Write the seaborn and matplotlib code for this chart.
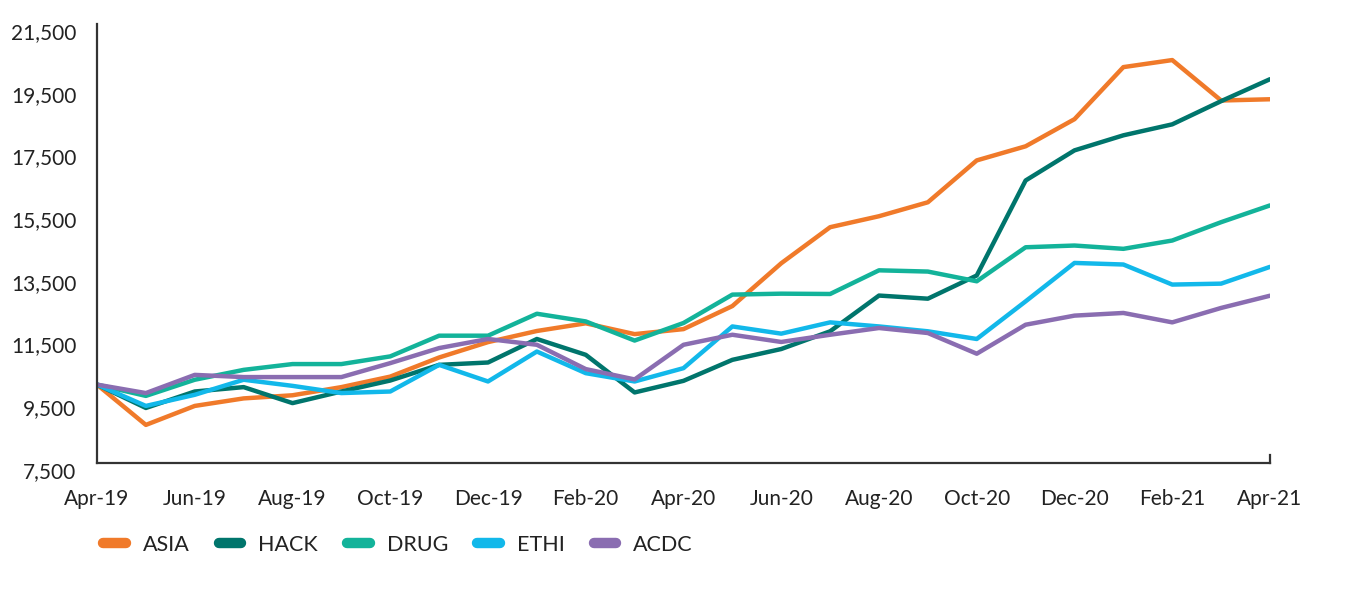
import matplotlib
matplotlib.use("Agg")
import matplotlib.pyplot as plt
import matplotlib.transforms as mtransforms
import seaborn as sns
import pandas as pd

months = ["Apr-19", "May-19", "Jun-19", "Jul-19", "Aug-19", "Sep-19", "Oct-19", "Nov-19",
          "Dec-19", "Jan-20", "Feb-20", "Mar-20", "Apr-20", "May-20", "Jun-20", "Jul-20",
          "Aug-20", "Sep-20", "Oct-20", "Nov-20", "Dec-20", "Jan-21", "Feb-21", "Mar-21", "Apr-21"]
tick_labels = ["Apr-19", "Jun-19", "Aug-19", "Oct-19", "Dec-19", "Feb-20", "Apr-20",
               "Jun-20", "Aug-20", "Oct-20", "Dec-20", "Feb-21", "Apr-21"]
y_ticks = [7500, 9500, 11500, 13500, 15500, 17500, 19500, 21500]

ASIA = [10000, 8715, 9320, 9560, 9660, 9920, 10255, 10865, 11355, 11710, 11955, 11610, 11770,
        12505, 13870, 15020, 15370, 15815, 17150, 17600, 18465, 20125, 20350, 19060, 19100]
HACK = [10000, 9255, 9780, 9920, 9410, 9780, 10130, 10630, 10705, 11455, 10950, 9750, 10120,
        10790, 11135, 11700, 12840, 12740, 13480, 16510, 17470, 17950, 18300, 19040, 19740]
DRUG = [10000, 9640, 10155, 10470, 10655, 10655, 10900, 11560, 11560, 12260, 12015, 11405, 11965,
        12870, 12900, 12890, 13645, 13605, 13295, 14380, 14435, 14330, 14595, 15180, 15715]
ETHI = [10000, 9320, 9675, 10155, 9960, 9730, 9780, 10630, 10100, 11055, 10365, 10100, 10525,
        11855, 11625, 11985, 11855, 11700, 11455, 12655, 13880, 13830, 13190, 13220, 13755]
ACDC = [10000, 9730, 10310, 10240, 10240, 10240, 10685, 11165, 11455, 11270, 10495, 10165, 11270,
        11590, 11360, 11590, 11805, 11645, 10985, 11910, 12200, 12285, 11985, 12445, 12835]

series = {"ASIA": ASIA, "HACK": HACK, "DRUG": DRUG, "ETHI": ETHI, "ACDC": ACDC}
colors = {"ASIA": "#F07A2A", "HACK": "#00756C", "DRUG": "#13B39A", "ETHI": "#12B8EA", "ACDC": "#8A6DB1"}

rows = []
for name, vals in series.items():
    for i, v in enumerate(vals):
        rows.append({"idx": i, "month": months[i], "value": v, "fund": name})
df = pd.DataFrame(rows)

sns.set_theme(style="white")
plt.rcParams["font.family"] = ["Lato", "DejaVu Sans"]
text_color = "#222222"

fig = plt.figure(figsize=(13.68, 5.90), dpi=100)
ax = fig.add_axes([97 / 1368, 1 - 463 / 590, (1270 - 97) / 1368, (463 - 24) / 590])

sns.lineplot(data=df, x="idx", y="value", hue="fund", palette=colors,
             hue_order=list(series.keys()), linewidth=3.2, ax=ax, legend=True)

ax.set_xlim(0, len(months) - 1)
ax.set_ylim(7500, 21500)
ax.set_xticks([months.index(m) for m in tick_labels])
ax.set_xticklabels(tick_labels)
ax.set_yticks(y_ticks)
ax.set_yticklabels([f"{v:,}" for v in y_ticks])
ax.set_xlabel("")
ax.set_ylabel("")

ax.spines["top"].set_visible(False)
for s in ["left", "bottom", "right"]:
    ax.spines[s].set_color("#333333")
    ax.spines[s].set_linewidth(1.6)
ax.spines["right"].set_bounds(7500, 7750)

ax.tick_params(axis="both", length=0, labelsize=15, colors=text_color)
ax.tick_params(axis="x", pad=19)
ax.tick_params(axis="y", pad=15)

offset = mtransforms.ScaledTranslation(0, -7 / 100, fig.dpi_scale_trans)
for lbl in ax.get_yticklabels():
    lbl.set_transform(lbl.get_transform() + offset)

handles, labels = ax.get_legend_handles_labels()
ax.get_legend().remove()
leg = fig.legend(handles, labels, loc="center left", bbox_to_anchor=(84 / 1368, 1 - 545 / 590),
                 ncol=5, frameon=False, fontsize=15.5, handlelength=1.05, handletextpad=0.78,
                 columnspacing=1.36)
for line in leg.get_lines():
    line.set_linewidth(7.5)
    line.set_solid_capstyle("round")
for t in leg.get_texts():
    t.set_color(text_color)

fig.savefig("out.png", dpi=100, facecolor="white")
